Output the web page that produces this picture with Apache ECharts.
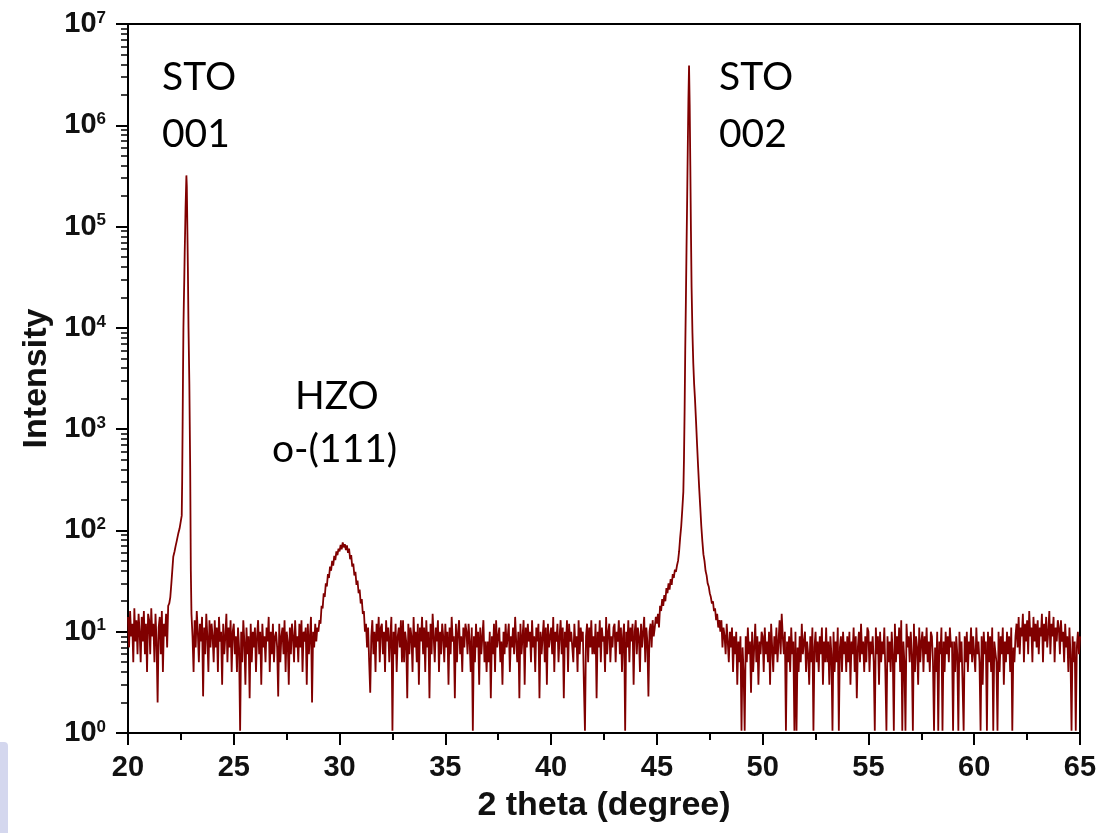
<!DOCTYPE html>
<html>
<head>
<meta charset="utf-8">
<title>XRD</title>
<script src="https://cdn.jsdelivr.net/npm/echarts@6.0.0/dist/echarts.min.js"></script>
<style>
  html, body { margin: 0; padding: 0; background: #fff; }
  #main { width: 1103px; height: 833px; }
</style>
</head>
<body>
<div id="main"></div>
<script>
  // background scan at 0.05 deg steps (one row = 1 deg)
  var scanStep = 0.05;
  var scanLowStart = 20.0;
  var scanLow = [
    14, 7, 16, 9, 12, 5, 17, 8, 13, 6, 15, 10, 5, 14, 8, 16, 6, 12, 4, 15,
    13, 6, 17, 9, 12, 5, 15, 8, 2, 11, 14, 6, 16, 4, 12, 9, 15, 7, 18, 19
  ];
  var scanMidStart = 23.05;
  var scanMid = [
    9, 4, 13, 7, 16, 10, 5, 12, 8, 14, 2.3, 11, 6, 15, 9, 4, 13, 7, 12,
    9, 5, 13, 7, 11, 4, 14, 8, 10, 3, 12, 6, 9, 15, 5, 11, 7, 13, 4, 10,
    12, 6, 9, 4, 11, 7, 1.05, 10, 5, 13, 8, 3, 11, 6, 9, 2.2, 12, 5, 10, 7,
    11, 4, 9, 13, 6, 10, 3, 12, 7, 9, 5, 11, 8, 14, 4, 10, 6, 12, 5, 9,
    10, 7, 2.3, 12, 5, 9, 11, 6, 13, 4, 10, 8, 3, 11, 6, 12, 9, 5, 13, 7,
    9, 5, 12, 7, 13, 4, 10, 8, 11, 3, 12, 6, 9, 14, 2, 10, 7, 12, 8, 11,
    10, 13, 12, 18, 17, 24, 22, 30, 28, 37, 34, 44, 40, 50, 45, 56, 51, 62, 57, 66,
    62, 72, 65, 76, 68, 73, 64, 71, 60, 66, 52, 57, 44, 47, 36, 39, 29, 32, 24, 26,
    19, 21, 15, 16, 10, 12, 7, 11, 5, 2.5, 9, 13, 6, 10, 4, 12, 8, 14, 5, 11,
    12, 6, 10, 4, 13, 8, 11, 5, 9, 14, 1.05, 10, 6, 12, 4, 9, 11, 7, 13, 5,
    13, 5, 10, 8, 2.2, 12, 6, 11, 9, 4, 14, 7, 10, 5, 12, 3, 11, 8, 14, 6,
    11, 4, 13, 7, 10, 2.2, 12, 6, 15, 9, 5, 11, 8, 13, 4, 10, 6, 12, 9, 5,
    12, 7, 10, 3, 11, 6, 14, 8, 9, 2.2, 12, 5, 10, 13, 6, 9, 4, 11, 7, 12,
    10, 6, 12, 8, 4, 11, 1.05, 9, 5, 12, 7, 10, 3, 11, 6, 9, 13, 5, 8, 4,
    8, 5, 10, 2.2, 9, 6, 12, 4, 13, 7, 9, 11, 5, 8, 3, 10, 6, 12, 7, 9,
    12, 4, 9, 7, 11, 6, 14, 8, 5, 10, 2.2, 12, 6, 9, 13, 3, 11, 7, 12, 8,
    10, 5, 13, 7, 9, 4, 11, 8, 12, 2.2, 10, 6, 9, 13, 5, 11, 3, 12, 7, 9,
    11, 6, 14, 4, 10, 8, 12, 5, 9, 13, 6, 11, 2.2, 10, 7, 13, 4, 12, 8, 10,
    10, 5, 12, 7, 9, 4, 13, 6, 11, 8, 10, 3, 1.05, 9, 12, 5, 11, 7, 13, 6,
    9, 6, 12, 2.2, 10, 7, 13, 5, 11, 8, 9, 4, 14, 6, 10, 12, 5, 9, 7, 11,
    12, 5, 10, 8, 13, 6, 11, 4, 9, 12, 1.05, 10, 7, 13, 5, 11, 8, 12, 3, 10,
    13, 6, 11, 9, 4, 12, 7, 10, 14, 5, 11, 8, 2.3, 10, 12, 7, 13, 9, 11, 14,
    12, 15, 11, 18, 16, 21, 18, 23, 20, 27, 24, 30, 26, 33, 29, 37, 34, 41, 39, 45
  ];
  var scanHighStart = 47.15;
  var scanHigh = [
    78, 58, 50, 40, 36, 30, 28, 24, 22, 19, 20, 16, 17, 13, 15, 11, 13,
    10, 13, 7, 11, 9, 6, 12, 8, 5, 10, 7, 11, 4, 9, 6, 10, 3, 8, 5, 9,
    1.05, 7, 4, 1.05, 9, 5, 11, 6, 8, 2.5, 10, 4, 7, 12, 5, 9, 3, 8, 6, 10,
    9, 4, 11, 6, 8, 5, 10, 3, 12, 7, 4, 9, 6, 11, 5, 8, 13, 6, 15, 9,
    6, 10, 1.05, 8, 5, 9, 4, 11, 6, 8, 1.05, 10, 1.05, 7, 4, 9, 5, 12, 6, 8,
    10, 4, 8, 6, 3, 9, 5, 11, 1.05, 7, 10, 5, 8, 4, 9, 6, 11, 3, 8, 5,
    11, 5, 8, 3, 9, 6, 1.05, 10, 4, 8, 5, 11, 1.05, 7, 9, 4, 10, 6, 8, 4,
    9, 5, 10, 3, 8, 6, 11, 4, 9, 2.2, 7, 10, 5, 12, 6, 8, 4, 9, 5, 11,
    10, 4, 8, 6, 9, 5, 1.05, 11, 6, 9, 3, 10, 5, 8, 6, 11, 4, 1.05, 9, 5,
    8, 4, 10, 6, 1.05, 12, 5, 9, 6, 11, 4, 13, 1.05, 8, 5, 1.05, 12, 7, 9, 5,
    10, 6, 1.05, 12, 4, 9, 7, 3, 11, 5, 8, 10, 4, 9, 6, 11, 5, 8, 4, 10,
    9, 5, 1.05, 7, 4, 10, 1.05, 8, 6, 11, 1.05, 8, 4, 10, 6, 9, 5, 11, 7, 8,
    1.05, 8, 4, 9, 6, 1.05, 10, 5, 8, 3, 1.05, 9, 5, 10, 4, 8, 6, 11, 5, 9,
    9, 4, 11, 6, 8, 5, 1.05, 9, 3, 10, 6, 8, 1.05, 10, 5, 9, 4, 11, 1.05, 8,
    8, 5, 1.05, 10, 4, 9, 6, 11, 3, 8, 5, 10, 6, 9, 4, 11, 1.05, 7, 5, 9,
    12, 7, 14, 6, 11, 9, 15, 5, 12, 8, 13, 6, 16, 9, 11, 5, 14, 8, 12, 7,
    13, 6, 11, 9, 15, 5, 12, 8, 14, 7, 10, 16, 6, 12, 9, 14, 5, 11, 8, 13,
    11, 6, 13, 8, 10, 5, 12, 7, 9, 4, 11, 6, 1.05, 9, 5, 8, 1.05, 7, 10, 6,
    9
  ];

  // substrate peaks, finer steps
  var sto001Angle = [22.0, 22.05, 22.1, 22.14, 22.2, 22.25, 22.3, 22.38, 22.44, 22.5, 22.54, 22.56, 22.58, 22.6, 22.62,
    22.64, 22.66, 22.68, 22.7, 22.72, 22.74, 22.76, 22.78, 22.8, 22.83, 22.86, 22.9, 22.94, 22.97, 23.0];
  var sto001Int = [22, 30, 42, 55, 62, 70, 78, 94, 105, 125, 140, 300, 1000, 3500, 10000,
    18000, 30000, 55000, 90000, 150000, 220000, 320000, 250000, 120000, 40000, 10000, 2800, 400, 40, 15];

  var sto002Angle = [46.0, 46.05, 46.1, 46.15, 46.2, 46.25, 46.28, 46.31, 46.34, 46.37, 46.4, 46.43, 46.46, 46.49, 46.52,
    46.55, 46.58, 46.61, 46.64, 46.68, 46.72, 46.76, 46.8, 46.85, 46.9, 46.95, 47.0, 47.05, 47.1];
  var sto002Int = [50, 62, 85, 110, 160, 240, 500, 1500, 6000, 18000, 60000, 180000, 600000, 1800000, 3900000,
    1600000, 400000, 90000, 25000, 9000, 4500, 2800, 2000, 1200, 700, 420, 260, 170, 110];

  var yExp = [0, 1, 2, 3, 4, 5, 6, 7];

  var pts = [];
  function addScan(start, arr) {
    for (var i = 0; i < arr.length; i++) {
      pts.push([Math.round((start + i * scanStep) * 100) / 100, arr[i]]);
    }
  }
  addScan(scanLowStart, scanLow);
  addScan(scanMidStart, scanMid);
  addScan(scanHighStart, scanHigh);
  for (var i = 0; i < sto001Angle.length; i++) pts.push([sto001Angle[i], sto001Int[i]]);
  for (var j = 0; j < sto002Angle.length; j++) pts.push([sto002Angle[j], sto002Int[j]]);
  pts.sort(function (a, b) { return a[0] - b[0]; });

  // log minor ticks 2..9 in each decade
  var minorVals = [];
  for (var d = 0; d < yExp.length - 1; d++) {
    for (var k = 2; k <= 9; k++) minorVals.push(k * Math.pow(10, yExp[d]));
  }

  var labelFont = 'Liberation Sans';
  var noteFont = 'Lato';

  var chart = echarts.init(document.getElementById('main'));
  var option = {
    animation: false,
    backgroundColor: '#fff',
    grid: {
      left: 128, right: 23, top: 24, bottom: 100,
      show: true, borderColor: '#000', borderWidth: 2, backgroundColor: 'transparent'
    },
    xAxis: {
      type: 'value', min: 20, max: 65, interval: 5,
      name: '2 theta (degree)', nameLocation: 'middle', nameGap: 56,
      nameTextStyle: { fontFamily: labelFont, fontWeight: 'bold', fontSize: 34, color: '#111' },
      axisLine: { onZero: false, lineStyle: { color: '#000', width: 2 } },
      axisTick: { length: 12, lineStyle: { color: '#000', width: 2 } },
      minorTick: { show: true, splitNumber: 2, length: 7, lineStyle: { color: '#000', width: 2 } },
      axisLabel: { margin: 20, fontFamily: labelFont, fontWeight: 'bold', fontSize: 29, color: '#111' },
      splitLine: { show: false }
    },
    yAxis: [{
      type: 'log', logBase: 10, min: 1, max: 1e7, position: 'left',
      name: 'Intensity', nameLocation: 'middle', nameGap: 74,
      nameTextStyle: { fontFamily: labelFont, fontWeight: 'bold', fontSize: 34, color: '#111' },
      axisLine: { show: true, onZero: false, lineStyle: { color: '#000', width: 2 } },
      axisTick: { show: true, length: 12, lineStyle: { color: '#000', width: 2 } },
      axisLabel: {
        margin: 22,
        formatter: function (v) {
          return '{b|10}{s|' + Math.round(Math.log10(v)) + '}';
        },
        rich: {
          b: { fontFamily: labelFont, fontWeight: 'bold', fontSize: 29, color: '#111' },
          s: { fontFamily: labelFont, fontWeight: 'bold', fontSize: 17, color: '#111', verticalAlign: 'top' }
        }
      },
      splitLine: { show: false }
    }, {
      type: 'log', logBase: 10, min: 1, max: 1e7, position: 'left',
      axisLine: { show: false },
      axisLabel: { show: false },
      axisTick: { show: true, length: 7, customValues: minorVals, lineStyle: { color: '#000', width: 1.5 } },
      splitLine: { show: false }
    }],
    series: [{
      type: 'line',
      data: pts,
      yAxisIndex: 0,
      showSymbol: false,
      sampling: null,
      lineStyle: { color: '#800000', width: 1.8 },
      z: 3
    }],
    graphic: [
      { type: 'text', x: 162, y: 77, style: { text: 'STO', fontFamily: noteFont, fontSize: 39, fill: '#000', verticalAlign: 'middle' } },
      { type: 'text', x: 162, y: 134, style: { text: '001', fontFamily: noteFont, fontSize: 39, fill: '#000', verticalAlign: 'middle' } },
      { type: 'text', x: 719, y: 77, style: { text: 'STO', fontFamily: noteFont, fontSize: 39, fill: '#000', verticalAlign: 'middle' } },
      { type: 'text', x: 719, y: 134, style: { text: '002', fontFamily: noteFont, fontSize: 39, fill: '#000', verticalAlign: 'middle' } },
      { type: 'text', x: 295, y: 396, style: { text: 'HZO', fontFamily: noteFont, fontSize: 39, fill: '#000', verticalAlign: 'middle' } },
      { type: 'text', x: 272, y: 449, style: { text: 'o-(111)', fontFamily: noteFont, fontSize: 39, fill: '#000', verticalAlign: 'middle' } },
      { type: 'rect', shape: { x: 0, y: 742, width: 8, height: 91, r: [0, 4, 0, 0] }, style: { fill: '#d4d7ee' } }
    ]
  };
  chart.setOption(option);
</script>
</body>
</html>
